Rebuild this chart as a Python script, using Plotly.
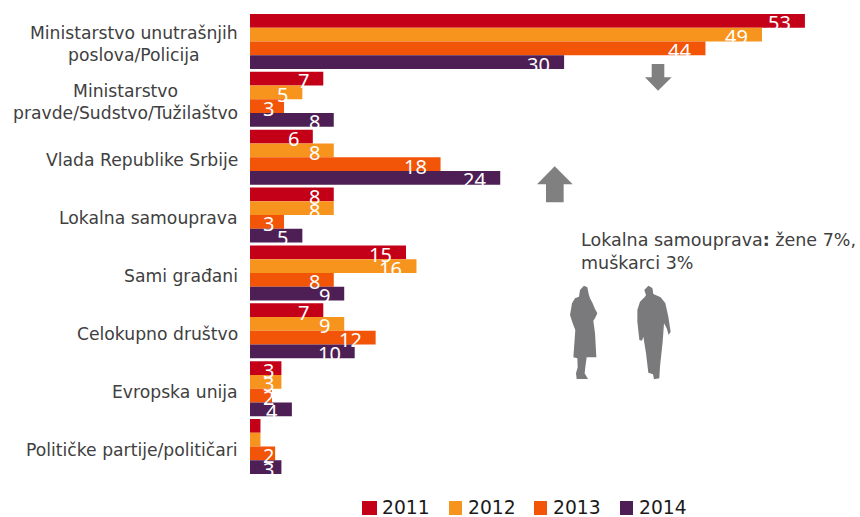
import plotly.graph_objects as go

categories = ["Ministarstvo unutrašnjih<br>poslova/Policija", "Ministarstvo<br>pravde/Sudstvo/Tužilaštvo",
              "Vlada Republike Srbije", "Lokalna samouprava", "Sami građani", "Celokupno društvo",
              "Evropska unija", "Političke partije/političari"]
years = ["2011", "2012", "2013", "2014"]
colors = ["#C40018", "#F7941E", "#F25408", "#4D1F54"]
# bar lengths
v2011 = [53, 7, 6, 8, 14.9, 7, 3, 1]
v2012 = [48.9, 5, 8, 8, 15.9, 9, 3, 1]
v2013 = [43.5, 3.25, 18.2, 3.25, 8, 12, 2.1, 2.4]
v2014 = [30, 8, 23.9, 5, 9, 10, 4, 3]
series = [v2011, v2012, v2013, v2014]
# printed labels
l2011 = ["53", "7", "6", "8", "15", "7", "3", ""]
l2012 = ["49", "5", "8", "8", "16", "9", "3", ""]
l2013 = ["44", "3", "18", "3", "8", "12", "2", "2"]
l2014 = ["30", "8", "24", "5", "9", "10", "4", "3"]
labels = [l2011, l2012, l2013, l2014]
legend_square_px = [362, 449, 534, 620]
legend_square_w = [15, 13, 13, 13]
legend_text_px = [380, 466, 551, 637]

W, H = 860, 517
L, T, B = 250, 12.5, 475.5
PXU = 10.47

def px(x): return (x - L) / (W - L)
def py(y): return 1 - y / H
def path_from(pts, ox, oy):
    p = [(ox + a / 3, oy + b / 3) for a, b in pts]
    return "M" + " L".join(f"{px(a):.4f},{py(b):.4f}" for a, b in p) + " Z"

fig = go.Figure()
for name, vals, col in zip(years, series, colors):
    fig.add_trace(go.Bar(y=categories, x=vals, name=name, orientation="h", showlegend=False,
                         marker=dict(color=col, line=dict(width=0))))

ann = []
for s, (vals, labs) in enumerate(zip(series, labels)):
    for c, (v, lab) in enumerate(zip(vals, labs)):
        if not lab:
            continue
        ann.append(dict(x=v, y=c + (s - 1.5) * 0.2375, xref="x", yref="y", text=lab, showarrow=False,
                        xanchor="right", xshift=max(-12, 25.5 - v * PXU), yshift=-2,
                        font=dict(family="Noto Sans", size=20, color="white")))
for c, cat in enumerate(categories):
    ann.append(dict(x=0, y=c, xref="paper", yref="y", text=cat, showarrow=False, xanchor="right", align="center",
                    xshift=-10, yshift=-3, font=dict(family="DejaVu Sans", size=17.2, color="#404040")))
ann.append(dict(x=px(579), y=py(251), xref="paper", yref="paper", xanchor="left", yanchor="middle", align="left",
                showarrow=False, text="Lokalna samouprava<b>:</b> žene 7%,<br>muškarci 3%",
                font=dict(family="DejaVu Sans", size=17.5, color="#404040")))

gray = "#808080"
arrow_down = [(395,42),(433,42),(433,82),(455,82),(414,122),(375,82),(395,82)]
arrow_up = [(104,349),(158,403),(131,403),(131,457),(78,457),(78,403),(51,403)]
woman = [(72,17),(82,22),(86,42),(90,55),(98,70),(104,85),(112,100),(105,115),(100,122),(105,160),(109,232),
         (80,232),(76,262),(74,280),(84,297),(50,297),(48,280),(53,262),(52,235),(40,232),(46,150),(38,130),
         (30,105),(36,70),(45,55),(57,50),(60,30)]
man = [(265,17),(277,24),(280,42),(302,52),(316,70),(325,110),(332,155),(326,165),(320,145),(312,130),(308,185),
       (300,260),(298,295),(282,298),(279,283),(265,278),(258,220),(250,170),(246,182),(238,180),(232,125),
       (232,90),(240,65),(255,50),(258,45),(253,30)]
shapes = [dict(type="path", xref="paper", yref="paper", path=path_from(p, 520, 50), fillcolor=gray, line=dict(width=0))
          for p in (arrow_down, arrow_up)]
shapes += [dict(type="path", xref="paper", yref="paper", path=path_from(p, 560, 280), fillcolor="#7a7a7c", line=dict(width=0))
           for p in (woman, man)]

for xs, ws, xt, yr, col in zip(legend_square_px, legend_square_w, legend_text_px, years, colors):
    shapes.append(dict(type="rect", xref="paper", yref="paper", x0=px(xs), x1=px(xs + ws), y0=py(501), y1=py(515),
                       fillcolor=col, line=dict(width=0)))
    ann.append(dict(x=px(xt), y=py(508), xref="paper", yref="paper", xanchor="left", yanchor="middle",
                    showarrow=False, text=yr, font=dict(family="DejaVu Sans", size=18.7, color="#1a1a1a")))

fig.update_layout(
    width=W, height=H, autosize=False, paper_bgcolor="white", plot_bgcolor="white",
    margin=dict(l=L, r=0, t=0, b=0, pad=0),
    barmode="group", bargap=0.05, bargroupgap=0,
    xaxis=dict(range=[0, (W - L) / PXU], visible=False),
    yaxis=dict(domain=[py(B), py(T)], range=[7.5, -0.5], showticklabels=False, ticks="", showgrid=False,
               zeroline=False, showline=False, type="category", categoryorder="array", categoryarray=categories),
    showlegend=False,
    annotations=ann, shapes=shapes,
    font=dict(family="DejaVu Sans"),
)
fig.write_html("out.html", post_script="document.body.style.margin='0';", config=dict(displayModeBar=False))
